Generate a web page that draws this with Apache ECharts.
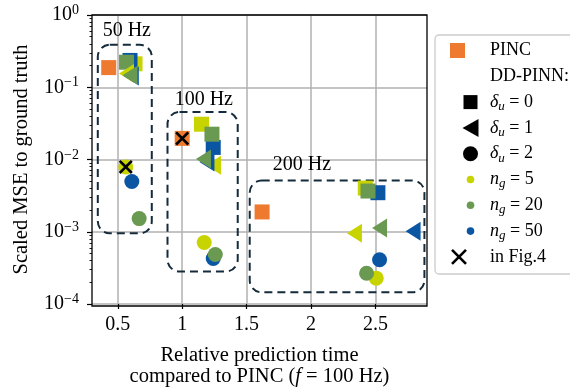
<!DOCTYPE html>
<html><head><meta charset="utf-8">
<script src="https://cdn.jsdelivr.net/npm/echarts@6/dist/echarts.min.js"></script>
<style>html,body{margin:0;padding:0;background:#fff}#c{width:570px;height:392px}</style>
</head><body><div id="c"></div>
<script>
const FONT = '"Liberation Serif","DejaVu Serif",serif';
// tick labels
const xTicks = [0.5, 1, 1.5, 2, 2.5];
const yTicks = [1e-4, 1e-3, 1e-2, 1e-1, 1];
const yMinorTicks = [2e-4,3e-4,4e-4,5e-4,6e-4,7e-4,8e-4,9e-4,
  2e-3,3e-3,4e-3,5e-3,6e-3,7e-3,8e-3,9e-3,
  2e-2,3e-2,4e-2,5e-2,6e-2,7e-2,8e-2,9e-2,
  0.2,0.3,0.4,0.5,0.6,0.7,0.8,0.9];
// categories (frequencies): 50 Hz, 100 Hz, 200 Hz
const frequencies = ['50 Hz', '100 Hz', '200 Hz'];
// PINC
const pincTime = [0.43, 1.0, 1.62];
const pincMSE  = [0.187, 0.0196, 0.00188];
// DD-PINN, delta_u = 0 (squares)
const d0ng5Time  = [0.634, 1.150, 2.421];  const d0ng5MSE  = [0.211, 0.0308, 0.00402];
const d0ng20Time = [0.568, 1.231, 2.442];  const d0ng20MSE = [0.222, 0.0224, 0.00366];
const d0ng50Time = [0.595, 1.241, 2.519];  const d0ng50MSE = [0.235, 0.0147, 0.00347];
// DD-PINN, delta_u = 1 (triangles)
const d1ng5Time  = [0.568, 1.243, 2.337];  const d1ng5MSE  = [0.155, 0.0083, 0.00095];
const d1ng20Time = [0.595, 1.165, 2.532];  const d1ng20MSE = [0.147, 0.0102, 0.00113];
const d1ng50Time = [0.605, 1.192, 2.792];  const d1ng50MSE = [0.143, 0.00925, 0.00102];
// DD-PINN, delta_u = 2 (circles)
const d2ng5Time  = [0.562, 1.171, 2.506];  const d2ng5MSE  = [0.00789, 0.00071, 0.000228];
const d2ng20Time = [0.666, 1.257, 2.431];  const d2ng20MSE = [0.00152, 0.000485, 0.000266];
const d2ng50Time = [0.609, 1.241, 2.532];  const d2ng50MSE = [0.00495, 0.000427, 0.00041];
// points shown in Fig.4
const fig4Time = [0.562, 1.0];
const fig4MSE  = [0.00789, 0.0196];
// frequency group boxes (data coords)
const boxXMin = [0.345, 0.886, 1.524];
const boxXMax = [0.764, 1.431, 2.88];
const boxYMin = [0.00095, 0.000281, 0.000145];
const boxYMax = [0.387, 0.0454, 0.00511];
const labelX = [0.57, 1.168, 1.93];
const labelY = [0.603, 0.0679, 0.0084];

const C_PINC = '#ee7a30', C5 = '#c8d400', C20 = '#6a9a52', C50 = '#0b56a2', C_BOX = '#142b3b';
const XPATH = 'path://M0,1.6L1.6,0L6,4.4L10.4,0L12,1.6L7.6,6L12,10.4L10.4,12L6,7.6L1.6,12L0,10.4L4.4,6Z';

function sc(name, times, mses, symbol, color, size, rotate) {
  return {
    type: 'scatter', name, symbol, symbolSize: size, symbolRotate: rotate || 0,
    data: times.map((t, i) => [t, mses[i]]),
    itemStyle: { color, opacity: 1 }, silent: true, animation: false,
    emphasis: { disabled: true }
  };
}
const TRI = [19, 15];
const series = [
  sc('PINC', pincTime, pincMSE, 'rect', C_PINC, 15),
  sc('d0 ng5', d0ng5Time, d0ng5MSE, 'rect', C5, 15),
  sc('d0 ng50', d0ng50Time, d0ng50MSE, 'rect', C50, 15),
  sc('d0 ng20', d0ng20Time, d0ng20MSE, 'rect', C20, 15),
  sc('d1 ng5', d1ng5Time, d1ng5MSE, 'triangle', C5, TRI, 90),
  sc('d1 ng50', d1ng50Time, d1ng50MSE, 'triangle', C50, TRI, 90),
  sc('d1 ng20', d1ng20Time, d1ng20MSE, 'triangle', C20, TRI, 90),
  sc('d2 ng5', d2ng5Time, d2ng5MSE, 'circle', C5, 15),
  sc('d2 ng50', d2ng50Time, d2ng50MSE, 'circle', C50, 15),
  sc('d2 ng20', d2ng20Time, d2ng20MSE, 'circle', C20, 15),
  sc('in Fig.4', fig4Time, fig4MSE, XPATH, '#000', 14)
];

const supMap = {'0':'0','-1':'−1','-2':'−2','-3':'−3','-4':'−4'};
const chart = echarts.init(document.getElementById('c'), null, { renderer: 'canvas' });
const GL = 92, GT = 15, GW = 335, GH = 291;
chart.setOption({
  animation: false,
  backgroundColor: '#fff',
  grid: { left: GL, top: GT, width: GW, height: GH, containLabel: false },
  xAxis: {
    type: 'value', min: 0.3, max: 2.9,
    axisLine: { show: false },
    axisTick: { show: true, customValues: xTicks, length: 5, lineStyle: { color: '#000', width: 1.2 } },
    axisLabel: { customValues: xTicks, formatter: v => String(v), fontFamily: FONT, fontSize: 20, color: '#000', margin: 11 },
    splitLine: { show: true, lineStyle: { color: '#b0b0b0', width: 1.5 } },
    name: 'Relative prediction time\ncompared to PINC ({i|f} = 100 Hz)',
    nameLocation: 'middle', nameGap: 41,
    nameTextStyle: { fontFamily: FONT, fontSize: 20.5, color: '#000', lineHeight: 21,
      rich: { i: { fontFamily: FONT, fontStyle: 'italic', fontSize: 20.5, color: '#000', lineHeight: 21 } } }
  },
  yAxis: [{
    type: 'log', logBase: 10, min: 1e-4, max: 1, position: 'left',
    axisLine: { show: false },
    axisTick: { show: true, customValues: yTicks, length: 5, lineStyle: { color: '#000', width: 1.2 } },
    axisLabel: {
      customValues: yTicks, margin: 13, color: '#000',
      formatter: v => '{b|10}{s|' + supMap[String(Math.round(Math.log10(v)))] + '}',
      rich: {
        b: { fontFamily: FONT, fontSize: 20, color: '#000', lineHeight: 23 },
        s: { fontFamily: FONT, fontSize: 14, color: '#000', lineHeight: 12, verticalAlign: 'top' }
      }
    },
    splitLine: { show: true, lineStyle: { color: '#b0b0b0', width: 1.5 } },
    name: 'Scaled MSE to ground truth', nameLocation: 'middle', nameGap: 60,
    nameTextStyle: { fontFamily: FONT, fontSize: 20.5, color: '#000' }
  }, {
    type: 'log', logBase: 10, min: 1e-4, max: 1, position: 'left',
    axisLine: { show: false },
    axisTick: { show: true, customValues: yMinorTicks, length: 2.5, lineStyle: { color: '#000', width: 0.9 } },
    axisLabel: { show: false }, splitLine: { show: false }
  }],
  series
});

function px(x, y) { return chart.convertToPixel({ xAxisIndex: 0, yAxisIndex: 0 }, [x, y]); }
const g = [];
frequencies.forEach((f, i) => {
  const p1 = px(boxXMin[i], boxYMax[i]);
  const p2 = px(boxXMax[i], boxYMin[i]);
  g.push({ type: 'rect', z: 1, silent: true,
    shape: { x: p1[0], y: p1[1], width: p2[0] - p1[0], height: p2[1] - p1[1], r: 12 },
    style: { fill: null, stroke: C_BOX, lineWidth: 2, lineDash: [8, 5] } });
  const pl = px(labelX[i], labelY[i]);
  g.push({ type: 'text', z: 5, silent: true, x: pl[0], y: pl[1],
    style: { text: f, align: 'center', verticalAlign: 'middle', font: '20px ' + FONT, fill: '#000' } });
});
// frame
g.push({ type: 'rect', z: 50, silent: true, shape: { x: GL, y: GT, width: GW, height: GH },
  style: { fill: null, stroke: '#000', lineWidth: 1.3 } });
// legend
const LX = 435, LY = 35, ROW = 25.8, R0 = 50.5, TX = 490, MX = 470.5;
g.push({ type: 'rect', z: 60, silent: true, shape: { x: LX, y: LY, width: 150, height: 239, r: 4 },
  style: { fill: '#fff', stroke: '#cccccc', lineWidth: 1.3 } });
const richL = {
  i: { fontFamily: FONT, fontStyle: 'italic', fontSize: 18, color: '#000', lineHeight: 22 },
  sb: { fontFamily: FONT, fontStyle: 'italic', fontSize: 13, color: '#000', lineHeight: 12, verticalAlign: 'bottom' },
  n: { fontFamily: FONT, fontSize: 18, color: '#000', lineHeight: 22 }
};
const legendTexts = ['{n|PINC}', '{n|DD-PINN:}', '{i|δ}{sb|u}{n| = 0}', '{i|δ}{sb|u}{n| = 1}', '{i|δ}{sb|u}{n| = 2}',
  '{i|n}{sb|g}{n| = 5}', '{i|n}{sb|g}{n| = 20}', '{i|n}{sb|g}{n| = 50}', '{n|in Fig.4}'];
legendTexts.forEach((t, i) => {
  g.push({ type: 'text', z: 61, silent: true, x: TX, y: R0 + ROW * i,
    style: { text: t, rich: richL, align: 'left', verticalAlign: 'middle', font: '18px ' + FONT, fill: '#000' } });
});
g.push({ type: 'rect', z: 61, silent: true, shape: { x: 457.5 - 7.5, y: R0 - 7.5, width: 15, height: 15 }, style: { fill: C_PINC } });
g.push({ type: 'rect', z: 61, silent: true, shape: { x: MX - 7, y: R0 + ROW * 2 - 7, width: 14, height: 14 }, style: { fill: '#000' } });
const ty = R0 + ROW * 3;
g.push({ type: 'polygon', z: 61, silent: true, shape: { points: [[MX - 8, ty], [MX + 8, ty - 9], [MX + 8, ty + 9]] }, style: { fill: '#000' } });
g.push({ type: 'circle', z: 61, silent: true, shape: { cx: MX, cy: R0 + ROW * 4, r: 7.5 }, style: { fill: '#000' } });
[C5, C20, C50].forEach((c, k) => {
  g.push({ type: 'circle', z: 61, silent: true, shape: { cx: MX, cy: R0 + ROW * (5 + k), r: 3.8 }, style: { fill: c } });
});
const xy = R0 + ROW * 8, xx = 459;
g.push({ type: 'polyline', z: 61, silent: true, shape: { points: [[xx - 7, xy - 7], [xx + 7, xy + 7]] }, style: { stroke: '#000', lineWidth: 2.6 } });
g.push({ type: 'polyline', z: 61, silent: true, shape: { points: [[xx - 7, xy + 7], [xx + 7, xy - 7]] }, style: { stroke: '#000', lineWidth: 2.6 } });
chart.setOption({ graphic: { elements: g } });
</script></body></html>
